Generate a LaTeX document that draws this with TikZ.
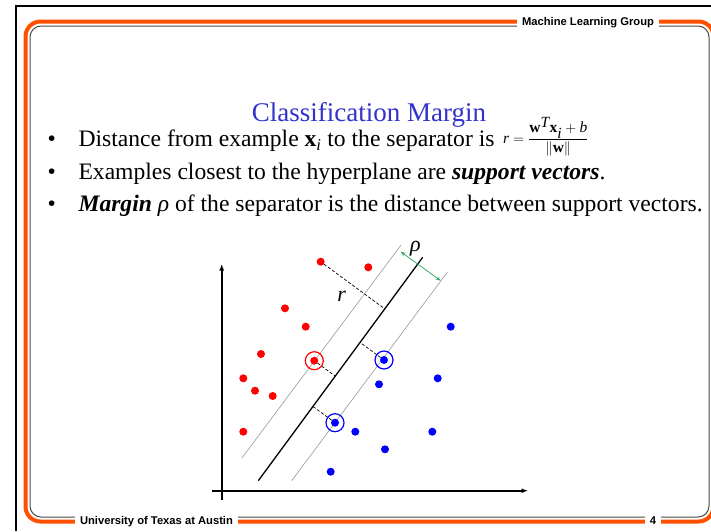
\documentclass[tikz,border=0pt]{standalone}
\usepackage{fontspec}
\setmainfont{Liberation Serif}
\setsansfont{Liberation Sans}
\usetikzlibrary{arrows.meta,calc}
\definecolor{frameorange}{HTML}{FF5000}
\definecolor{framegray}{HTML}{4A4A42}
\definecolor{titleblue}{HTML}{3333CC}
\definecolor{marginline}{HTML}{999999}
\definecolor{rhogreen}{HTML}{3CAA6E}
\definecolor{dotred}{HTML}{FF0000}
\definecolor{dotblue}{HTML}{0000FF}

\begin{document}
\begin{tikzpicture}[x=1pt,y=-1pt,
    reddot/.style={circle,fill=dotred,minimum size=8pt,inner sep=0pt},
    bluedot/.style={circle,fill=dotblue,minimum size=8pt,inner sep=0pt},
    svring/.style={circle,draw,line width=1.2pt,minimum size=18pt,inner sep=0pt},
    distline/.style={densely dashed,line width=0.7pt},
    bandline/.style={marginline,line width=0.6pt},
    axisline/.style={line width=1.6pt,-{Latex[length=6.5pt,width=5pt]}},
    bullet/.style={anchor=base,font=\fontsize{23.6}{28}\selectfont},
    bullettext/.style={anchor=base west,font=\fontsize{23.6}{28}\selectfont},
    corner/.style={fill=white,inner xsep=5pt,inner ysep=2pt,
      font=\sffamily\bfseries\fontsize{11.2}{13}\selectfont},
  ]
  \useasboundingbox (0,0) rectangle (711,531);
  \clip (0,0) rectangle (711,531);
  \fill[white] (0,0) rectangle (711,531);

  % slide frame
  \draw[line width=2pt] (16,531) -- (16,6) -- (711,6);
  \draw[frameorange,line width=4pt,rounded corners=15pt] (25.5,21.5) rectangle (713.5,521.5);
  \draw[framegray,line width=1pt,rounded corners=11pt] (30,26) rectangle (709,517);
  \node[corner] (group) at (588,23) {Machine Learning Group};
  \node[corner] (univ) at (156.5,522) {University of Texas at Austin};
  \node[corner] (page) at (653,521) {4};

  \node[titleblue,anchor=base,font=\fontsize{27}{32}\selectfont] (title) at (369,121) {Classification Margin};

  % bullets
  \foreach \i/\y in {1/146.7,2/179,3/211.7}
    \node[bullet] (dot\i) at (51.7,\y) {\textbullet};
  \node[bullettext] (line1) at (75,146.7)
    {Distance from example \textbf{x}\textsubscript{\textit{i}} to the separator is};
  \node[anchor=base west,inner sep=0pt,font=\fontsize{15.5}{17}\selectfont] (formula) at (503,143)
    {$\textit{r}=\displaystyle\frac{\textbf{w}^{\textit{T}}\textbf{x}_{\textit{i}}+\textit{b}}{\|\textbf{w}\|}$};
  \node[bullettext] (line2) at (75,179)
    {Examples closest to the hyperplane are \textbf{\textit{support vectors}}.};
  \node[bullettext] (line3) at (75,211.7)
    {\textbf{\textit{Margin}} \textit{ρ} of the separator is the distance between support vectors.};

  % axes
  \coordinate (ybot) at (221.7,500);
  \coordinate (ytop) at (221.7,264);
  \coordinate (xleft) at (212,490.7);
  \coordinate (xright) at (528,490.7);
  \draw[axisline] (ybot) -- (ytop);
  \draw[axisline] (xleft) -- (xright);

  % separator and margin band
  \coordinate (sepA) at (258.3,480.7);
  \coordinate (sepB) at (422.7,257.3);
  \coordinate (lowA) at (241.7,458.3);
  \coordinate (lowB) at (401,245);
  \coordinate (uppA) at (291.7,480.7);
  \coordinate (uppB) at (447.3,272.3);
  \draw[bandline] (lowA) -- (lowB);
  \draw[bandline] (uppA) -- (uppB);
  \draw[line width=1.3pt] (sepA) -- (sepB);

  % examples
  \foreach \n/\x/\y in {r1/320.7/261.7,r2/368.3/267.3,r3/285/308.3,r4/305.7/326.7,
      r5/261/354,r6/314.3/360.7,r7/243.3/378.3,r8/255/390.7,r9/272.7/396,r10/243.3/431.7}
    \node[reddot] (\n) at (\x,\y) {};
  \foreach \n/\x/\y in {b1/450.7/326.7,b2/384/360,b3/437.7/378.3,b4/379/384.3,
      b5/335/422.7,b6/355.3/431.7,b7/432.3/431.7,b8/385/449.3,b9/330.7/471.7}
    \node[bluedot] (\n) at (\x,\y) {};

  % distances to the separator
  \foreach \p in {r1,r6,b2,b5}
    \draw[distline] (\p) -- ($(sepA)!(\p.center)!(sepB)$);

  % support vectors
  \node[svring,draw=dotred] (r6ring) at (r6) {};
  \node[svring,draw=dotblue] (b2ring) at (b2) {};
  \node[svring,draw=dotblue] (b5ring) at (b5) {};

  % margin width
  \coordinate (rhoA) at (400.7,251.7);
  \coordinate (rhoB) at (440.7,280.7);
  \draw[rhogreen,line width=0.8pt,{Stealth[length=5pt,width=4pt]}-{Stealth[length=5pt,width=4pt]}] (rhoA) -- (rhoB);
  \node[font=\itshape\fontsize{22}{24}\selectfont] (rlabel) at (341.7,296) {r};
  \node[font=\itshape\fontsize{22}{24}\selectfont] (rholabel) at (415.5,249) {ρ};
\end{tikzpicture}
\end{document}
